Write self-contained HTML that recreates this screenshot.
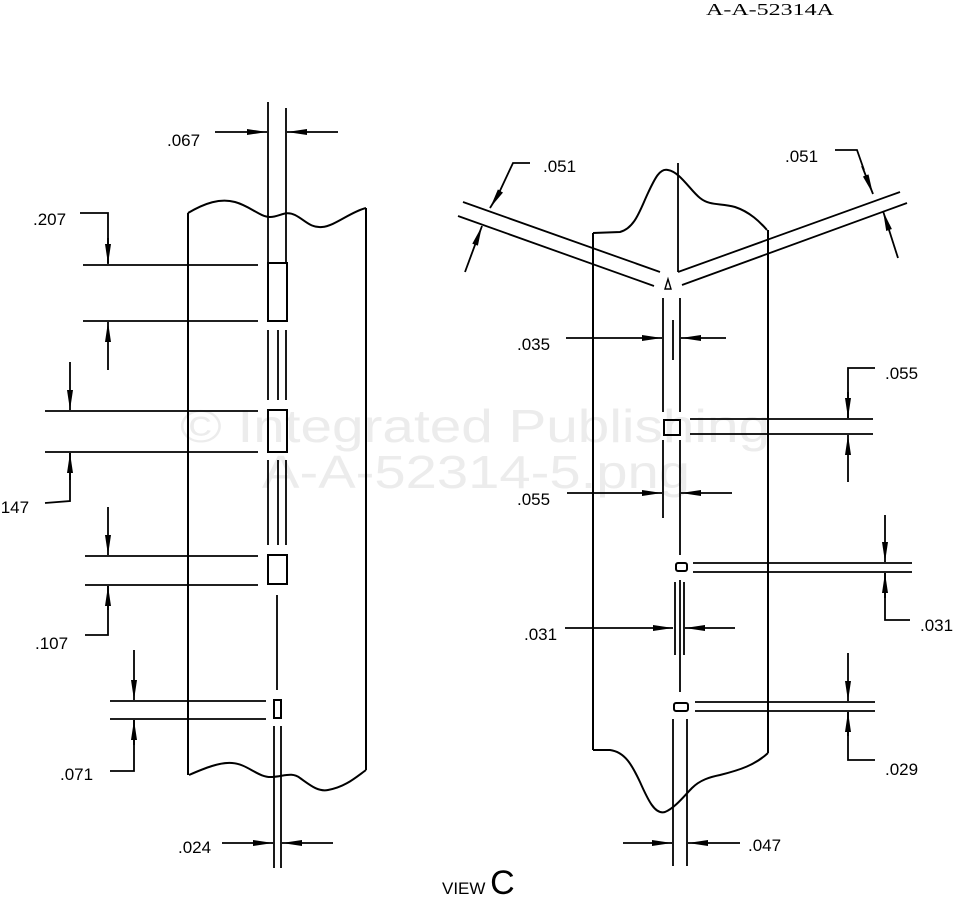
<!DOCTYPE html>
<html><head><style>
html,body{margin:0;padding:0;background:#fff;width:957px;height:899px;overflow:hidden}
svg text{font-family:"Liberation Sans",sans-serif;font-size:17px;fill:#000}
</style></head><body>
<svg width="957" height="899" viewBox="0 0 957 899" xmlns="http://www.w3.org/2000/svg">
<defs>
<marker id="a" viewBox="0 0 20 8" refX="20" refY="4" markerWidth="20" markerHeight="8" markerUnits="userSpaceOnUse" orient="auto">
<path d="M0,1 L20,4 L0,7 Z" fill="#000"/></marker>
</defs>
<text x="180" y="442" textLength="590" lengthAdjust="spacingAndGlyphs" style="font-size:46px;fill:#ececec">© Integrated Publishing</text>
<text x="262" y="488" textLength="428" lengthAdjust="spacingAndGlyphs" style="font-size:46px;fill:#ececec">A-A-52314-5.png</text>
<g fill="none" stroke="#000" stroke-width="1.8">
<line x1="268" y1="102" x2="268" y2="263"/>
<line x1="286" y1="108" x2="286" y2="263"/>
<line x1="215" y1="132" x2="267" y2="132" marker-end="url(#a)"/>
<line x1="338" y1="132" x2="287" y2="132" marker-end="url(#a)"/>
<path d="M188,213 C205,203 220,198 235,202 C250,206 260,217 270,217 C280,217 285,210 295,215 C305,220 310,228 322,227 C335,226 350,212 366,208" stroke-width="2"/>
<line x1="188" y1="213" x2="188" y2="775" stroke-width="2"/>
<line x1="366" y1="208" x2="366" y2="770" stroke-width="2"/>
<path d="M189,775 C205,768 220,762 232,763 C248,764 258,778 272,777 C285,776 292,772 300,778 C310,785 318,792 328,790 C345,787 355,778 366,770" stroke-width="2"/>
<rect x="268" y="263" width="19" height="58" stroke-width="2"/>
<line x1="83" y1="265" x2="258" y2="265"/>
<line x1="83" y1="321" x2="258" y2="321"/>
<polyline points="80,213 108,213 108,263"/>
<line x1="108" y1="238" x2="108" y2="264" marker-end="url(#a)"/>
<line x1="108" y1="370" x2="108" y2="322" marker-end="url(#a)"/>
<line x1="268" y1="330" x2="268" y2="400"/><line x1="278" y1="330" x2="278" y2="400"/><line x1="286" y1="330" x2="286" y2="400"/>
<rect x="268" y="410" width="19" height="42" stroke-width="2"/>
<line x1="45" y1="411" x2="258" y2="411"/>
<line x1="45" y1="452" x2="258" y2="452"/>
<line x1="70" y1="362" x2="70" y2="410" marker-end="url(#a)"/>
<polyline points="45,503 70,501 70,453"/>
<line x1="70" y1="480" x2="70" y2="453" marker-end="url(#a)"/>
<line x1="268" y1="460" x2="268" y2="545"/><line x1="278" y1="460" x2="278" y2="545"/><line x1="286" y1="460" x2="286" y2="545"/>
<rect x="268" y="555" width="19" height="29" stroke-width="2"/>
<line x1="85" y1="556" x2="258" y2="556"/>
<line x1="85" y1="585" x2="258" y2="585"/>
<line x1="108" y1="507" x2="108" y2="555" marker-end="url(#a)"/>
<polyline points="85,635 108,635 108,586"/>
<line x1="108" y1="610" x2="108" y2="586" marker-end="url(#a)"/>
<line x1="277" y1="595" x2="277" y2="690"/>
<rect x="274" y="700" width="7" height="18" stroke-width="2"/>
<line x1="110" y1="701" x2="266" y2="701"/>
<line x1="110" y1="719" x2="266" y2="719"/>
<line x1="134" y1="650" x2="134" y2="700" marker-end="url(#a)"/>
<polyline points="110,771 134,771 134,720"/>
<line x1="134" y1="745" x2="134" y2="720" marker-end="url(#a)"/>
<line x1="274" y1="726" x2="274" y2="868"/><line x1="281" y1="726" x2="281" y2="868"/>
<line x1="222" y1="843" x2="273" y2="843" marker-end="url(#a)"/>
<line x1="333" y1="843" x2="282" y2="843" marker-end="url(#a)"/>
<line x1="678" y1="163" x2="678" y2="272"/>
<path d="M593,233 L620,232 C635,228 640,210 648,193 C655,178 660,168 668,170 C680,172 690,190 700,198 C710,206 720,203 735,207 C750,212 760,222 767,230" stroke-width="2"/>
<line x1="593" y1="233" x2="593" y2="750" stroke-width="2"/>
<line x1="768" y1="230" x2="768" y2="753" stroke-width="2"/>
<path d="M593,750 L610,750 C625,752 632,765 640,782 C648,800 655,815 665,812 C675,808 685,795 692,788 C700,780 710,777 720,775 C740,770 755,765 768,753" stroke-width="2"/>
<line x1="463" y1="202" x2="660" y2="272"/>
<line x1="458" y1="216" x2="654" y2="286"/>
<line x1="678" y1="272" x2="900" y2="192"/>
<line x1="682" y1="285" x2="907" y2="203"/>
<path d="M665,289 L668,279 L671,289 Z" stroke-width="1.4"/>
<polyline points="530,163 513,163 498,195"/>
<line x1="498" y1="195" x2="490" y2="208" marker-end="url(#a)"/>
<line x1="465" y1="272" x2="482" y2="226" marker-end="url(#a)"/>
<polyline points="835,150 857,150 864,170"/>
<line x1="862" y1="166" x2="873" y2="194" marker-end="url(#a)"/>
<line x1="898" y1="258" x2="883" y2="211" marker-end="url(#a)"/>
<line x1="663" y1="298" x2="663" y2="412"/><line x1="680" y1="298" x2="680" y2="412"/>
<line x1="673" y1="320" x2="673" y2="360"/>
<line x1="566" y1="338" x2="662" y2="338" marker-end="url(#a)"/>
<line x1="726" y1="338" x2="681" y2="338" marker-end="url(#a)"/>
<rect x="664" y="420" width="16" height="15" stroke-width="2"/>
<line x1="690" y1="419" x2="873" y2="419"/>
<line x1="690" y1="434" x2="873" y2="434"/>
<polyline points="875,368 848,368 848,418"/>
<line x1="848" y1="392" x2="848" y2="418" marker-end="url(#a)"/>
<line x1="848" y1="482" x2="848" y2="435" marker-end="url(#a)"/>
<line x1="663" y1="440" x2="663" y2="518"/><line x1="680" y1="440" x2="680" y2="555"/>
<line x1="567" y1="493" x2="662" y2="493" marker-end="url(#a)"/>
<line x1="732" y1="493" x2="681" y2="493" marker-end="url(#a)"/>
<rect x="676" y="563" width="11" height="8" rx="2" stroke-width="2"/>
<line x1="693" y1="563" x2="912" y2="563"/>
<line x1="693" y1="572" x2="912" y2="572"/>
<line x1="885" y1="515" x2="885" y2="562" marker-end="url(#a)"/>
<polyline points="910,620 885,620 885,573"/>
<line x1="885" y1="598" x2="885" y2="573" marker-end="url(#a)"/>
<line x1="680" y1="580" x2="680" y2="692"/><line x1="675" y1="582" x2="675" y2="655"/><line x1="684" y1="582" x2="684" y2="655"/>
<line x1="565" y1="628" x2="673" y2="628" marker-end="url(#a)"/>
<line x1="735" y1="628" x2="685" y2="628" marker-end="url(#a)"/>
<rect x="674" y="703" width="14" height="8" rx="2" stroke-width="2"/>
<line x1="695" y1="702" x2="875" y2="702"/>
<line x1="695" y1="711" x2="875" y2="711"/>
<line x1="848" y1="653" x2="848" y2="701" marker-end="url(#a)"/>
<polyline points="875,760 848,760 848,712"/>
<line x1="848" y1="736" x2="848" y2="712" marker-end="url(#a)"/>
<line x1="673" y1="719" x2="673" y2="866"/><line x1="687" y1="719" x2="687" y2="866"/>
<line x1="623" y1="843" x2="672" y2="843" marker-end="url(#a)"/>
<line x1="740" y1="843" x2="688" y2="843" marker-end="url(#a)"/>
</g>
<text x="167" y="146">.067</text>
<text x="33" y="225">.207</text>
<text x="-4" y="513">.147</text>
<text x="35" y="649">.107</text>
<text x="60" y="780">.071</text>
<text x="178" y="853">.024</text>
<text x="543" y="172">.051</text>
<text x="785" y="162">.051</text>
<text x="517" y="350">.035</text>
<text x="885" y="379">.055</text>
<text x="517" y="505">.055</text>
<text x="524" y="640">.031</text>
<text x="920" y="631">.031</text>
<text x="885" y="775">.029</text>
<text x="748" y="851">.047</text>
<text x="442" y="894" style="font-size:17px">VIEW <tspan style="font-size:34px">C</tspan></text>
<text x="706" y="15" textLength="128" lengthAdjust="spacingAndGlyphs" style="font-family:'Liberation Serif',serif;font-size:17px">A-A-52314A</text>
</svg>
</body></html>
